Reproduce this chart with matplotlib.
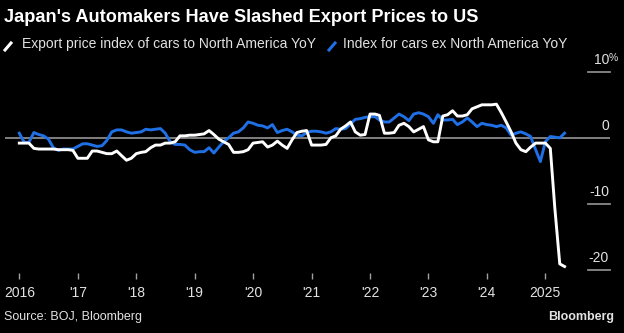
import matplotlib

matplotlib.use("Agg")
import matplotlib.pyplot as plt
import matplotlib.transforms as mtransforms
from matplotlib.lines import Line2D
import pandas as pd

W, H = 624, 333
DPI = 100

months = pd.date_range("2016-01-01", "2025-05-01", freq="MS")

# Export price index of cars to North America, YoY %
to_north_america = [
    -0.7, -0.7, -0.7, -1.5, -1.6, -1.6, -1.6, -1.6, -1.7, -1.7, -1.7, -1.8,
    -3.0, -3.0, -3.0, -1.9, -1.9, -2.1, -2.3, -2.3, -1.9, -2.6, -3.3, -3.0,
    -2.3, -2.1, -2.0, -1.4, -1.0, -1.0, -0.7, -0.7, -0.5, 0.4, 0.4, 0.5,
    0.5, 0.6, 0.7, 1.2, 0.6, -0.1, -0.5, -0.9, -2.1, -2.1, -2.0, -1.7,
    -0.7, -0.6, -0.5, -1.3, -1.0, -0.4, -1.0, -1.5, -0.2, 0.9, 1.1, 1.2,
    -1.0, -1.0, -1.0, -0.9, 0.1, 0.4, 1.4, 1.9, 2.5, 1.0, 0.5, 0.6,
    3.7, 3.7, 3.5, 0.8, 0.8, 0.9, 2.0, 2.3, 1.8, 1.0, 1.4, 1.8,
    -0.2, -0.5, -0.5, 3.4, 3.6, 4.2, 3.4, 3.4, 3.6, 4.5, 4.8, 5.1,
    5.1, 5.1, 5.2, 3.9, 2.5, 1.0, -0.7, -1.7, -2.0, -1.3, -0.7, -0.7,
    -0.7, -1.5, -10.5, -19.0, -19.4,
]

# Index for cars ex North America, YoY %
ex_north_america = [
    0.8, -0.6, -0.6, 0.9, 0.6, 0.4, -0.1, -1.4, -1.8, -1.6, -1.6, -1.6,
    -1.2, -0.8, -0.8, -1.0, -1.2, -1.1, -0.3, 1.0, 1.3, 1.3, 1.0, 0.8,
    0.9, 1.0, 1.4, 1.3, 1.4, 1.5, 0.8, -0.5, -0.9, -0.9, -1.0, -1.7,
    -2.1, -2.0, -2.0, -1.4, -2.2, -1.3, -0.5, 0.1, 0.8, 1.0, 1.6, 2.5,
    2.3, 2.0, 1.9, 1.6, 2.1, 0.9, 1.2, 1.4, 1.0, 0.5, 0.4, 0.9,
    1.1, 1.1, 1.0, 0.8, 1.0, 1.5, 1.4, 1.5, 2.2, 2.9, 3.0, 3.2,
    3.3, 3.3, 2.8, 2.5, 2.5, 3.1, 3.7, 3.3, 2.7, 3.7, 3.9, 3.7,
    3.3, 2.3, 3.6, 2.8, 2.8, 2.9, 2.1, 2.5, 3.1, 2.5, 1.8, 2.3,
    2.1, 2.0, 1.8, 2.0, 1.6, 0.5, 0.8, 1.0, 0.7, 0.3, -1.7, -3.5,
    -0.5, 0.3, 0.2, 0.1, 0.8,
]

year_ticks = pd.date_range("2016-01-01", "2025-01-01", freq="YS")
year_labels = ["2016", "'17", "'18", "'19", "'20", "'21", "'22", "'23", "'24", "2025"]
y_ticks = [10, 0, -10, -20]
y_labels = ["10", "0", "-10", "-20"]

series_names = [
    "Export price index of cars to North America YoY",
    "Index for cars ex North America YoY",
]

BG = "#000000"
WHITE = "#ffffff"
BLUE = "#1f6fe5"
GRID = "#8a8a8a"
TEXT = "#e2e2e2"
NARROW = ["Liberation Sans", "DejaVu Sans"]


def fx(px):
    return px / W


def fy(py):
    return 1 - py / H


fig = plt.figure(figsize=(W / DPI, H / DPI), dpi=DPI, facecolor=BG)

# plot area in pixels: x 5..610, y 60..273
ax = fig.add_axes([fx(5), fy(273), fx(610) - fx(5), fy(60) - fy(273)], facecolor=BG)

start = pd.Timestamp("2016-01-01")
ax.set_xlim(start - pd.Timedelta(days=89.4), start + pd.Timedelta(days=3692))
ax.set_ylim(-20.38, 11.89)

ax.axhline(0, color=GRID, lw=1.3, zorder=1)
ax.plot(months, ex_north_america, color=BLUE, lw=2.1, zorder=2, solid_joinstyle="round")
ax.plot(months, to_north_america, color=WHITE, lw=2.1, zorder=3, solid_joinstyle="round")

for s in ax.spines.values():
    s.set_visible(False)

ax.set_xticks(year_ticks)
ax.set_xticklabels(year_labels, family=NARROW, fontsize=10, color=TEXT)
ax.tick_params(axis="x", direction="out", length=4, width=1, color="#a0a0a0", pad=5.5)
ax.set_yticks([])

# right-hand value labels sitting on short grid stubs
ytrans = ax.get_yaxis_transform()
x_stub0 = (588 - 5) / 605
for v, lab in zip(y_ticks, y_labels):
    if v != 0:
        ax.plot([x_stub0, 1.0], [v, v], transform=ytrans, color=GRID, lw=1.3, clip_on=False)
    tr = mtransforms.offset_copy(ytrans, fig=fig, y=12.5, units="dots")
    ax.text((609 - 5) / 605, v, lab, transform=tr, ha="right", va="center",
            family=NARROW, fontsize=10, color=TEXT)
    if v == 10:
        tr2 = mtransforms.offset_copy(ytrans, fig=fig, x=0, y=14, units="dots")
        ax.text((609 - 5) / 605, v, "%", transform=tr2, ha="left", va="center",
                family=NARROW, fontsize=7.5, color=TEXT)

# title
fig.text(fx(4), fy(17), "Japan's Automakers Have Slashed Export Prices to US",
         family=["Liberation Sans", "DejaVu Sans"], fontweight="bold", fontsize=13.1,
         color=WHITE, ha="left", va="center")

# legend row
for (x0, x1), color, (tx, name) in zip(
    [(5, 11), (329, 335)], [WHITE, BLUE], [(22, series_names[0]), (343, series_names[1])]
):
    fig.add_artist(Line2D([fx(x0), fx(x1)], [fy(50), fy(43)], color=color, lw=2.2,
                          transform=fig.transFigure))
    fig.text(fx(tx), fy(44), name, family=NARROW, fontsize=10, color=TEXT,
             ha="left", va="center")

# footer
fig.text(fx(4), fy(317), "Source: BOJ, Bloomberg", family=NARROW, fontsize=9,
         color=TEXT, ha="left", va="center")
fig.text(fx(614), fy(317), "Bloomberg", family=NARROW, fontweight="bold", fontsize=9,
         color=TEXT, ha="right", va="center")

fig.savefig("out.png", dpi=DPI, facecolor=BG)
plt.close(fig)
